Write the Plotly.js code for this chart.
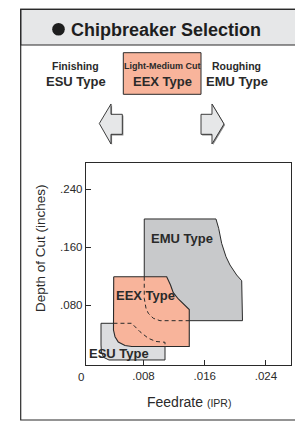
<!DOCTYPE html>
<html>
<head>
<meta charset="utf-8">
<script src="https://cdn.plot.ly/plotly-3.0.1.min.js"></script>
<style>
html,body{margin:0;padding:0;background:#fff;}
#chart{width:295px;height:423px;}
</style>
</head>
<body>
<div id="chart"></div>
<script>
// ---- data (Feedrate in IPR, Depth of Cut in inches) ----
const feedTickVals = [0.008, 0.016, 0.024];
const feedTickText = ['.008', '.016', '.024'];
const docTickVals = [0.08, 0.16, 0.24];
const docTickText = ['.080', '.160', '.240'];

const esuFeed  = [0.00245, 0.00646, 0.00754, 0.00863, 0.00963, 0.01081, 0.01081, 0.00349, 0.00284, 0.00251, 0.00245, 0.00245];
const esuDepth = [0.0552, 0.0552, 0.0436, 0.0345, 0.0301, 0.0290, 0.0046, 0.0046, 0.0080, 0.0142, 0.0252, 0.0552];

const emuFeed  = [0.0081, 0.01747, 0.01782, 0.01821, 0.01878, 0.01930, 0.02017, 0.02083, 0.02093, 0.01015, 0.00928, 0.00863, 0.00833, 0.0081, 0.0081];
const emuDepth = [0.1991, 0.1991, 0.1862, 0.1655, 0.1470, 0.1356, 0.1218, 0.1139, 0.0588, 0.0588, 0.0621, 0.0690, 0.0759, 0.0897, 0.1991];

const eexFeed  = [0.00411, 0.01103, 0.01153, 0.01189, 0.01255, 0.01316, 0.01368, 0.01398, 0.01398, 0.00646, 0.00558, 0.00471, 0.00428, 0.00408, 0.00411];
const eexDepth = [0.1194, 0.1194, 0.1080, 0.0974, 0.0887, 0.0825, 0.0783, 0.0742, 0.0232, 0.0232, 0.0246, 0.0294, 0.0367, 0.0459, 0.1194];

// hidden outlines (drawn dashed over EEX)
const esuHiddenFeed  = [0.00408, 0.00646, 0.00754, 0.00863, 0.00963, 0.01081, 0.01081];
const esuHiddenDepth = [0.0552, 0.0552, 0.0436, 0.0345, 0.0301, 0.0290, 0.0232];
const emuHiddenFeed  = [0.0081, 0.0081, 0.00833, 0.00863, 0.00928, 0.01015, 0.01398];
const emuHiddenDepth = [0.1194, 0.0897, 0.0759, 0.0690, 0.0621, 0.0588, 0.0588];

// ---- layout helpers (pixel -> paper) ----
const PL = 86, PR = 291, PT = 163, PB = 365;
const xp = x => (x - PL) / (PR - PL);
const yp = y => (PB - y) / (PB - PT);
const pathPx = pts => 'M' + pts.map(p => xp(p[0]).toFixed(5) + ',' + yp(p[1]).toFixed(5)).join('L') + 'Z';

const ink = '#2a2a2a';
const FONT = '"Liberation Sans", Arial, Helvetica, sans-serif';

const traces = [
  {x: esuFeed, y: esuDepth, mode: 'lines', fill: 'toself', fillcolor: '#dcdddf', line: {color: ink, width: 1}, hoverinfo: 'skip'},
  {x: emuFeed, y: emuDepth, mode: 'lines', fill: 'toself', fillcolor: '#c8c9cb', line: {color: ink, width: 1}, hoverinfo: 'skip'},
  {x: eexFeed, y: eexDepth, mode: 'lines', fill: 'toself', fillcolor: '#f8b49b', line: {color: ink, width: 1.1}, hoverinfo: 'skip'},
  {x: esuHiddenFeed, y: esuHiddenDepth, mode: 'lines', line: {color: ink, width: 1, dash: '4px,3px'}, hoverinfo: 'skip'},
  {x: emuHiddenFeed, y: emuHiddenDepth, mode: 'lines', line: {color: ink, width: 1, dash: '4px,3px'}, hoverinfo: 'skip'}
];

const leftArrow = [[99.3,123.5],[111,104],[111,114.3],[122.3,114.3],[122.3,134.3],[111,134.3],[111,144]];
const rightArrow = [[201,114.3],[212,114.3],[212,104],[224,124],[212,144],[212,134.3],[201,134.3]];
const shift = (pts, d) => pts.map(p => [p[0] + d, p[1] + d]);

const shapes = [
  // outer frame + header
  {type: 'rect', xref: 'paper', yref: 'paper', x0: xp(20.7), x1: xp(305), y0: yp(9.3), y1: yp(45), fillcolor: '#e6e7e8', line: {color: ink, width: 1.2}, layer: 'below'},
  {type: 'rect', xref: 'paper', yref: 'paper', x0: xp(20.7), x1: xp(305), y0: yp(9.3), y1: yp(420), fillcolor: 'rgba(0,0,0,0)', line: {color: ink, width: 1.2}, layer: 'below'},
  // bullet in header
  {type: 'circle', xref: 'paper', yref: 'paper', x0: xp(52.2), x1: xp(64.8), y0: yp(22.9), y1: yp(35.5), fillcolor: '#1e1e1e', line: {width: 0}},
  // EEX header box
  {type: 'rect', xref: 'paper', yref: 'paper', x0: xp(123.3), x1: xp(201), y0: yp(52.7), y1: yp(94.3), fillcolor: '#f8b49b', line: {color: ink, width: 1}},
  // arrows (shadow + body)
  {type: 'path', xref: 'paper', yref: 'paper', path: pathPx(shift(leftArrow, 1.1)), fillcolor: '#8a8a8a', line: {width: 0}},
  {type: 'path', xref: 'paper', yref: 'paper', path: pathPx(leftArrow), fillcolor: '#e6e7e8', line: {color: ink, width: 0.9}},
  {type: 'path', xref: 'paper', yref: 'paper', path: pathPx(shift(rightArrow, 1.1)), fillcolor: '#8a8a8a', line: {width: 0}},
  {type: 'path', xref: 'paper', yref: 'paper', path: pathPx(rightArrow), fillcolor: '#e6e7e8', line: {color: ink, width: 0.9}}
];

const ann = (text, x, y, size, extra) => Object.assign({
  text: text, xref: 'paper', yref: 'paper', x: xp(x), y: yp(y), xanchor: 'center', yanchor: 'middle',
  showarrow: false, font: {family: FONT, size: size, color: ink}
}, extra || {});

const annotations = [
  ann('<b>Chipbreaker Selection</b>', 166, 29.5, 18, {font: {family: FONT, size: 18, color: '#1e1e1e'}}),
  ann('<b>Finishing</b>', 75.5, 66, 10.5),
  ann('<b>ESU Type</b>', 75.5, 81.5, 13),
  ann('<b>Light-Medium Cut</b>', 162, 65.5, 9),
  ann('<b>EEX Type</b>', 162, 81.5, 13),
  ann('<b>Roughing</b>', 236, 66, 10.5),
  ann('<b>EMU Type</b>', 236.5, 81.5, 13),
  // region labels
  ann('<b>EMU Type</b>', 182, 238.5, 13),
  ann('<b>EEX Type</b>', 145, 295, 13),
  ann('<b>ESU Type</b>', 118.8, 353, 13),
  // origin label
  ann('0', 80.7, 377, 11.5),
  // axis titles
  ann('Depth of Cut (inches)', 40, 248, 13.5, {textangle: -90}),
  ann('Feedrate <span style="font-size:10.5px">(IPR)</span>', 188.8, 402, 14)
];

const layout = {
  width: 295, height: 423,
  margin: {l: PL, r: 295 - PR, t: PT, b: 423 - PB, pad: 0},
  paper_bgcolor: '#fff', plot_bgcolor: '#fff',
  showlegend: false,
  font: {family: FONT, color: ink},
  xaxis: {
    range: [0.00049, 0.02727], tickvals: feedTickVals, ticktext: feedTickText,
    ticks: 'inside', ticklen: 5, tickcolor: ink, tickwidth: 1,
    showline: true, linecolor: ink, linewidth: 1.2, mirror: true,
    showgrid: false, zeroline: false, tickfont: {family: FONT, size: 11.5, color: ink}
  },
  yaxis: {
    range: [-0.00234, 0.2763], tickvals: docTickVals, ticktext: docTickText,
    ticks: 'inside', ticklen: 5, tickcolor: ink, tickwidth: 1,
    showline: true, linecolor: ink, linewidth: 1.2, mirror: true,
    showgrid: false, zeroline: false, tickfont: {family: FONT, size: 11.5, color: ink}
  },
  shapes: shapes,
  annotations: annotations
};

Plotly.newPlot('chart', traces, layout, {staticPlot: true, displayModeBar: false});
</script>
</body>
</html>
